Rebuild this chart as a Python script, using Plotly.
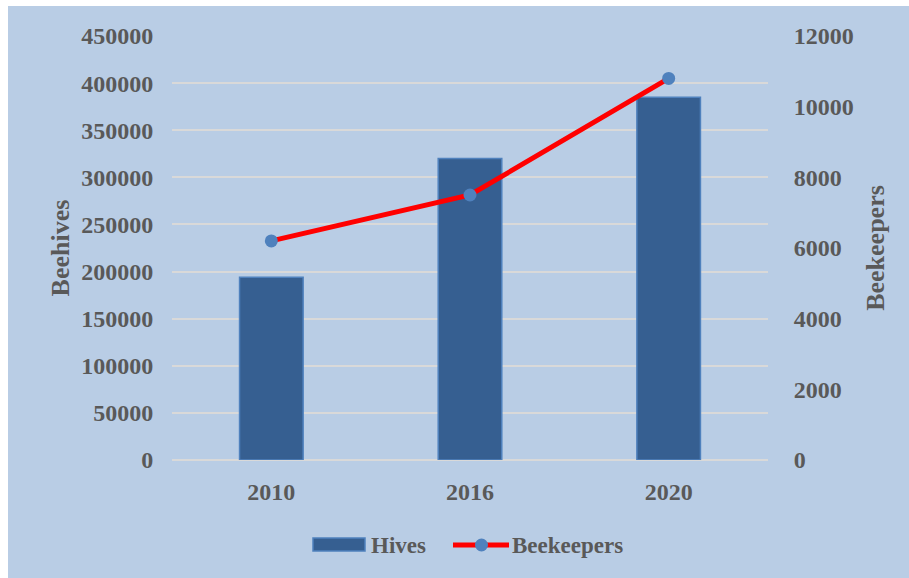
import plotly.graph_objects as go

# Beehives and beekeepers by census year
years = ["2010", "2016", "2020"]
hives = [194000, 320000, 385000]
beekeepers = [6200, 7500, 10800]

hive_ticks = list(range(0, 450001, 50000))
keeper_ticks = list(range(0, 12001, 2000))

TEXT = "#595959"
GRID = "#D9D9D9"
BG = "#B9CDE5"
BAR = "#365F91"
BAR_EDGE = "#4F81BD"
LINE = "#FF0000"
FONT = "Liberation Serif"

fig = go.Figure()

fig.add_trace(go.Bar(
    x=years, y=hives, name="Hives", showlegend=False,
    marker=dict(color=BAR, line=dict(color=BAR_EDGE, width=1.5)),
    yaxis="y",
))

fig.add_trace(go.Scatter(
    x=years, y=beekeepers, name="Beekeepers", showlegend=False,
    mode="lines+markers",
    line=dict(color=LINE, width=5),
    marker=dict(color=BAR_EDGE, size=13),
    yaxis="y2",
))

L, R, T, B = 172, 141, 36, 118
W, H = 909, 578
pw, ph = W - L - R, H - T - B


def px(x):
    """Horizontal pixel position -> paper fraction."""
    return (x - L) / pw


def py(y):
    """Vertical pixel position (from top) -> paper fraction."""
    return (T + ph - y) / ph


shapes = [
    # panel background
    dict(type="rect", xref="paper", yref="paper", layer="below",
         x0=px(8), x1=px(W + 20), y0=py(H + 20), y1=py(6),
         fillcolor=BG, line=dict(width=0)),
    # legend key: hives
    dict(type="rect", xref="paper", yref="paper",
         x0=px(313), x1=px(365), y0=py(551), y1=py(538),
         fillcolor=BAR, line=dict(color=BAR_EDGE, width=1.5)),
    # legend key: beekeepers
    dict(type="line", xref="paper", yref="paper",
         x0=px(453), x1=px(509), y0=py(545), y1=py(545),
         line=dict(color=LINE, width=5)),
    dict(type="circle", xref="paper", yref="paper",
         x0=px(475), x1=px(488), y0=py(551.5), y1=py(538.5),
         fillcolor=BAR_EDGE, line=dict(width=0)),
]

legend_font = dict(family=FONT, size=23, color=TEXT, weight="bold")
annotations = [
    dict(text="Hives", xref="paper", yref="paper", x=px(369), y=py(545),
         xanchor="left", yanchor="middle", showarrow=False, font=legend_font),
    dict(text="Beekeepers", xref="paper", yref="paper", x=px(510), y=py(545),
         xanchor="left", yanchor="middle", showarrow=False, font=legend_font),
]

fig.update_layout(
    width=W, height=H,
    margin=dict(l=L, r=R, t=T, b=B, pad=0),
    paper_bgcolor="white",
    plot_bgcolor="rgba(0,0,0,0)",
    font=dict(family=FONT, color=TEXT, size=24, weight="bold"),
    bargap=0.68,
    showlegend=False,
    xaxis=dict(
        type="category", showgrid=False, showline=False, zeroline=False,
        ticks="outside", ticklen=10, tickcolor="rgba(0,0,0,0)",
        tickfont=dict(family=FONT, size=24, color=TEXT, weight="bold"),
    ),
    yaxis=dict(
        range=[0, 450000], tickvals=hive_ticks, ticktext=[str(v) for v in hive_ticks],
        showgrid=True, gridcolor=GRID, gridwidth=1.5,
        zeroline=True, zerolinecolor=GRID, zerolinewidth=1.5,
        ticks="outside", ticklen=13, tickcolor="rgba(0,0,0,0)",
        tickfont=dict(family=FONT, size=24, color=TEXT, weight="bold"),
        title=dict(text="Beehives", standoff=4,
                   font=dict(family=FONT, size=26, color=TEXT, weight="bold")),
    ),
    yaxis2=dict(
        range=[0, 12000], tickvals=keeper_ticks, ticktext=[str(v) for v in keeper_ticks],
        overlaying="y", side="right", showgrid=False, zeroline=False,
        ticks="outside", ticklen=20, tickcolor="rgba(0,0,0,0)",
        tickfont=dict(family=FONT, size=24, color=TEXT, weight="bold"),
        title=dict(text="Beekeepers", standoff=13,
                   font=dict(family=FONT, size=26, color=TEXT, weight="bold")),
    ),
    shapes=shapes,
    annotations=annotations,
)

fig.write_html("out.html")
